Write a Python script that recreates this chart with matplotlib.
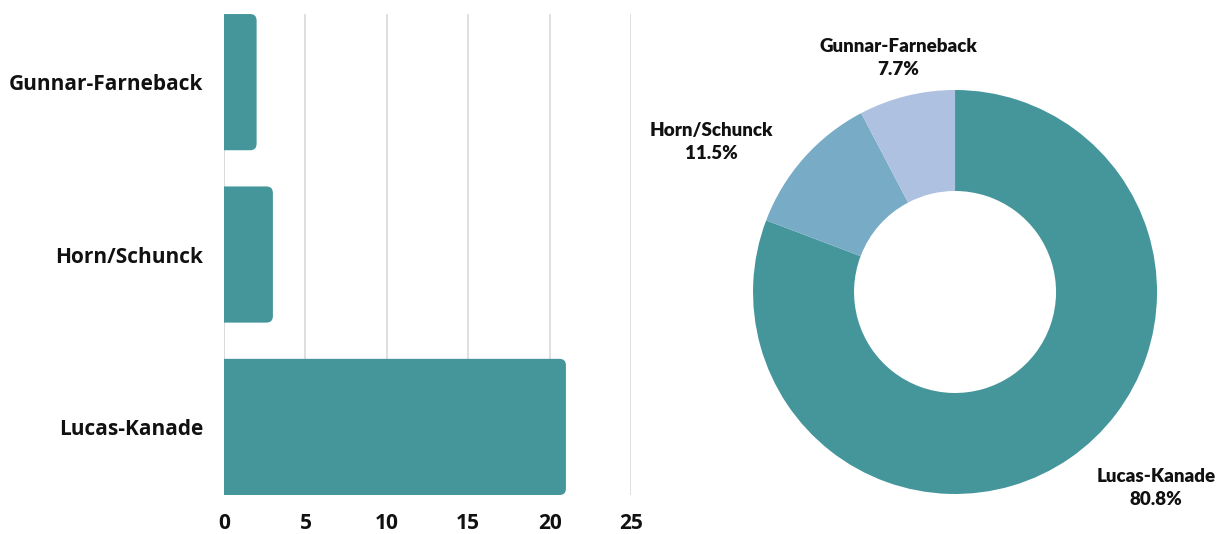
import matplotlib.pyplot as plt
from matplotlib.patches import FancyBboxPatch

# data
methods = ["Gunnar-Farneback", "Horn/Schunck", "Lucas-Kanade"]
counts = [2, 3, 21]
x_ticks = [0, 5, 10, 15, 20, 25]

pie_order = ["Lucas-Kanade", "Horn/Schunck", "Gunnar-Farneback"]
pie_colors = ["#45969b", "#78abc6", "#afc1e0"]
teal = "#45969b"

fig = plt.figure(figsize=(12.27, 5.34), dpi=100)

# -----------------------------------------------------------------
# horizontal bars
# -----------------------------------------------------------------
ax = fig.add_axes([0.1826, 0.073, 0.3317, 0.9007])
bar_h = 0.79
for i, v in enumerate(counts):
    box = FancyBboxPatch((-1, i - bar_h / 2), v + 1, bar_h,
                         boxstyle="round,pad=0,rounding_size=0.4",
                         mutation_aspect=0.094, fc=teal, ec="none", zorder=3)
    ax.add_patch(box)
ax.set_xlim(0, 25)
ax.set_ylim(len(counts) - 1 + bar_h / 2, -bar_h / 2)
ax.set_xticks(x_ticks)
ax.set_yticks(range(len(methods)))
ax.set_yticklabels(methods)
ax.grid(axis="x", color="#d9d9d9", lw=1.2, zorder=0)
ax.axvline(0, color="#d9d9d9", lw=1.2, zorder=0)
for s in ax.spines.values():
    s.set_visible(False)
ax.tick_params(length=0)
ax.tick_params(axis="x", pad=13)
ax.tick_params(axis="y", pad=15)
for t in ax.get_xticklabels() + ax.get_yticklabels():
    t.set_fontfamily("Open Sans")
    t.set_fontweight("bold")
    t.set_fontsize(15)
    t.set_color("#111111")

# -----------------------------------------------------------------
# donut
# -----------------------------------------------------------------
pax = fig.add_axes([0.5314, -0.1142, 0.4939, 1.1348])
pie_vals = [counts[methods.index(m)] for m in pie_order]
pax.pie(pie_vals, colors=pie_colors, startangle=90, counterclock=False,
        radius=1, wedgeprops=dict(width=0.5, edgecolor="none"))
pax.set_xlim(-1.5, 1.5)
pax.set_ylim(-1.5, 1.5)
pax.set_aspect("equal")
pax.axis("off")

total = sum(pie_vals)
label_pos = [(0.995, -0.97), (-1.208, 0.743), (-0.282, 1.158)]
for name, v, (lx, ly) in zip(pie_order, pie_vals, label_pos):
    pax.text(lx, ly, f"{name}\n{100 * v / total:.1f}%", ha="center", va="center",
             fontfamily="Lato", fontweight="heavy", fontsize=13.5,
             color="#111111", linespacing=1.45)

fig.savefig("out.png", dpi=100)
